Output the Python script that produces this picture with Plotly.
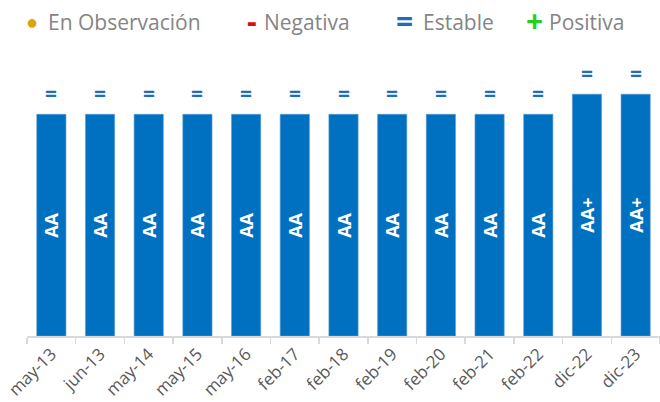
import plotly.graph_objects as go

categories = ["may-13", "jun-13", "may-14", "may-15", "may-16", "feb-17", "feb-18",
              "feb-19", "feb-20", "feb-21", "feb-22", "dic-22", "dic-23"]
ratings = ["AA", "AA", "AA", "AA", "AA", "AA", "AA", "AA", "AA", "AA", "AA", "AA+", "AA+"]
rating_scale = {"AA": 11, "AA+": 12}
values = [rating_scale[r] for r in ratings]
outlook = ["=", "=", "=", "=", "=", "=", "=", "=", "=", "=", "=", "=", "="]

legend_symbols = ["●", "-", "=", "+"]
legend_colors = ["#DDA40A", "#D81010", "#1F6FB8", "#22D022"]
legend_labels = ["En Observación", "Negativa", "Estable", "Positiva"]
legend_sym_x = [32, 252, 404, 534]
legend_sym_size = [20, 30, 30, 30]
legend_lab_x = [46, 262, 421, 547]

BAR = "#0070C0"
FONT = "Open Sans"
PLOT_LEFT = 27        # page px
PLOT_TOP = 74         # page px

fig = go.Figure()
fig.add_trace(go.Bar(
    x=categories, y=values, text=ratings,
    marker=dict(color=BAR, line=dict(color="#5A9BD5", width=0.6)),
    textposition="inside", insidetextanchor="middle", textangle=-90,
    textfont=dict(color="white", size=18, family=FONT, weight="bold"),
    constraintext="none", width=0.6, hoverinfo="skip",
))

annotations = []
for c, v, o in zip(categories, values, outlook):
    annotations.append(dict(x=c, y=v, text=o, showarrow=False, yshift=21,
                            font=dict(size=21, color="#1F6FB8", family=FONT, weight="bold")))

legend_y = 22
for sym, col, lab, sx, ss, lx in zip(legend_symbols, legend_colors, legend_labels,
                                     legend_sym_x, legend_sym_size, legend_lab_x):
    annotations.append(dict(xref="paper", yref="paper", x=0, y=1,
                            xshift=sx - PLOT_LEFT,
                            yshift=PLOT_TOP - legend_y + (2 if ss > 20 else 1),
                            xanchor="center", yanchor="middle", showarrow=False,
                            text=f"<b>{sym}</b>",
                            font=dict(size=ss, color=col, family=FONT)))
    annotations.append(dict(xref="paper", yref="paper", x=0, y=1,
                            xshift=lx - PLOT_LEFT, yshift=PLOT_TOP - legend_y,
                            xanchor="left", yanchor="middle", showarrow=False,
                            text=lab,
                            font=dict(size=21, color="#858585", family=FONT)))

fig.update_layout(
    width=660, height=402,
    margin=dict(l=PLOT_LEFT, r=0, t=PLOT_TOP, b=66, autoexpand=False),
    paper_bgcolor="white", plot_bgcolor="white",
    showlegend=False, annotations=annotations, hovermode=False,
    xaxis=dict(showline=True, linecolor="#D9D9D9", linewidth=1.5, ticks="outside",
               tickson="boundaries", tickcolor="#D9D9D9", ticklen=6, tickwidth=1.5,
               tickangle=-45, tickfont=dict(size=17, color="#595959", family=FONT),
               showgrid=False, fixedrange=True, automargin=False),
    yaxis=dict(visible=False, range=[0, 13], fixedrange=True),
)

fig.write_html("out.html", config={"displayModeBar": False, "staticPlot": True},
               post_script="document.body.style.margin='0';")
